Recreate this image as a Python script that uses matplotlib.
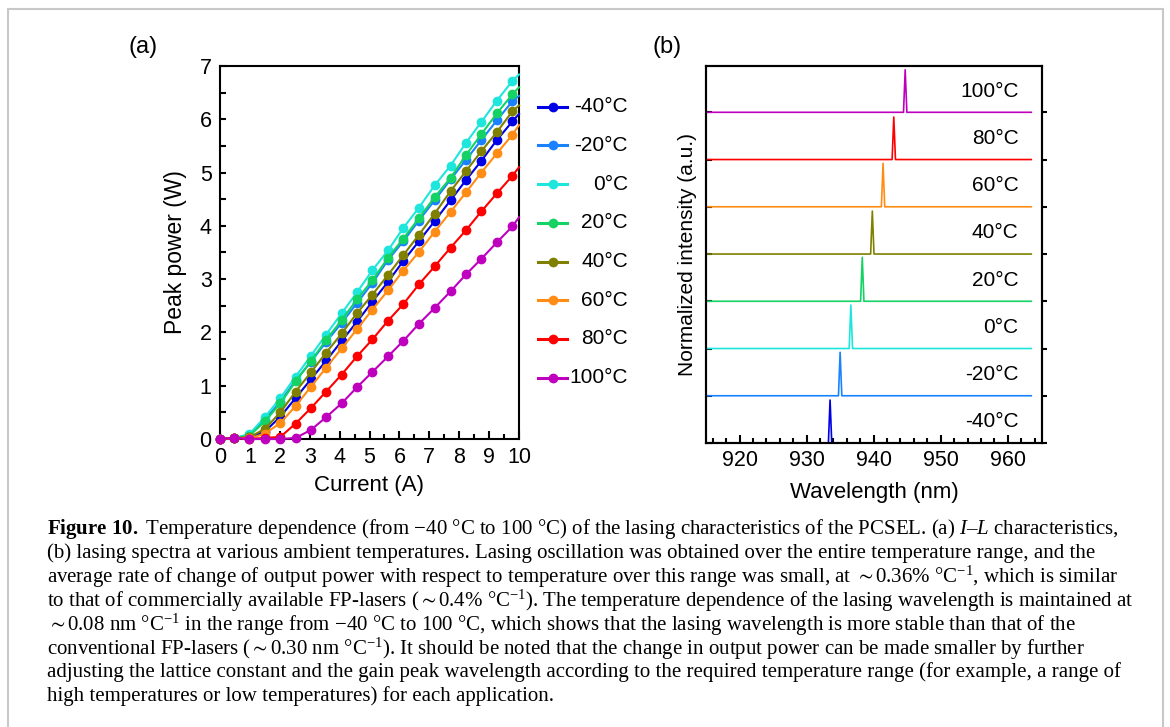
import matplotlib
matplotlib.use("Agg")
import matplotlib.pyplot as plt
from matplotlib.lines import Line2D
from matplotlib.patches import Rectangle
from matplotlib.ticker import MultipleLocator

plt.rcParams.update({
    "font.family": ["Liberation Sans", "DejaVu Sans"],
    "font.size": 15.5,
    "axes.linewidth": 1.5,
    "mathtext.fontset": "custom",
    "mathtext.rm": "Liberation Serif",
    "mathtext.it": "Liberation Serif:italic",
    "mathtext.bf": "Liberation Serif:bold",
    "mathtext.fallback": "stix",
})

# ── data ─────────────────────────────────────────────────
temps  = ["-40°C", "-20°C", "0°C", "20°C", "40°C", "60°C", "80°C", "100°C"]
colors = ["#0000e6", "#1a82ff", "#1ee6dc", "#14d264", "#808000",
          "#ff8c14", "#ff0000", "#be00be"]

current = [0, 0.47, 0.98, 1.5, 2.02, 2.53, 3.04, 3.55, 4.07, 4.58,
           5.1, 5.62, 6.13, 6.65, 7.18, 7.71, 8.23, 8.74, 9.26, 9.78]

p_m40 = [0, 0.02, 0.02, 0.14, 0.42, 0.77, 1.12, 1.47, 1.84, 2.20,
         2.58, 2.95, 3.34, 3.71, 4.09, 4.48, 4.86, 5.22, 5.61, 5.96]
p_m20 = [0, 0.02, 0.07, 0.36, 0.70, 1.10, 1.45, 1.82, 2.18, 2.55,
         2.93, 3.36, 3.71, 4.10, 4.48, 4.87, 5.24, 5.61, 5.98, 6.34]
p_0   = [0, 0.02, 0.09, 0.41, 0.77, 1.17, 1.56, 1.96, 2.36, 2.75,
         3.17, 3.54, 3.96, 4.34, 4.76, 5.13, 5.56, 5.95, 6.35, 6.72]
p_20  = [0, 0.02, 0.06, 0.33, 0.67, 1.08, 1.46, 1.86, 2.23, 2.62,
         2.98, 3.40, 3.76, 4.14, 4.54, 4.90, 5.33, 5.72, 6.11, 6.47]
p_40  = [0, 0.02, 0.03, 0.19, 0.50, 0.89, 1.25, 1.62, 1.98, 2.36,
         2.71, 3.08, 3.45, 3.83, 4.23, 4.65, 5.03, 5.40, 5.76, 6.15]
p_60  = [0, 0.02, 0.01, 0.10, 0.30, 0.62, 0.98, 1.34, 1.70, 2.06,
         2.43, 2.79, 3.16, 3.51, 3.89, 4.26, 4.63, 5.00, 5.36, 5.71]
p_80  = [0, 0.02, 0.0, 0.02, 0.04, 0.29, 0.58, 0.89, 1.21, 1.55,
         1.87, 2.22, 2.53, 2.90, 3.24, 3.59, 3.92, 4.27, 4.61, 4.94]
p_100 = [0, 0.02, 0.0, 0.0, 0.0, 0.02, 0.17, 0.41, 0.67, 0.97,
         1.26, 1.55, 1.84, 2.16, 2.46, 2.77, 3.09, 3.38, 3.69, 3.99]
powers = [p_m40, p_m20, p_0, p_20, p_40, p_60, p_80, p_100]
# fitted line value at 10 A
p_end = [6.10, 6.44, 6.84, 6.60, 6.26, 5.89, 5.10, 4.16]

# spectra
peak_wl  = [933.5, 935.0, 936.6, 938.3, 939.8, 941.4, 943.0, 944.7]
peak_h   = [0.91, 0.92, 0.92, 0.93, 0.91, 0.92, 0.90, 0.90]
wl_start = 915.0
wl_end   = 963.5
half_w   = 0.25

caption = [
    r"$\mathbf{Figure\ 10.}$ Temperature dependence (from −40 °C to 100 °C) of the lasing characteristics of the PCSEL. (a) $I$–$L$ characteristics,",
    "(b) lasing spectra at various ambient temperatures. Lasing oscillation was obtained over the entire temperature range, and the",
    r"average rate of change of output power with respect to temperature over this range was small, at ${\sim}$0.36% °C$^{-1}$, which is similar",
    r"to that of commercially available FP-lasers (${\sim}$0.4% °C$^{-1}$). The temperature dependence of the lasing wavelength is maintained at",
    r"${\sim}$0.08 nm °C$^{-1}$ in the range from −40 °C to 100 °C, which shows that the lasing wavelength is more stable than that of the",
    r"conventional FP-lasers (${\sim}$0.30 nm °C$^{-1}$). It should be noted that the change in output power can be made smaller by further",
    "adjusting the lattice constant and the gain peak wavelength according to the required temperature range (for example, a range of",
    "high temperatures or low temperatures) for each application.",
]

W, H = 1170, 727
fig = plt.figure(figsize=(W / 100, H / 100), dpi=100)

def fx(px):
    return px / W

def fy(py):
    return 1 - py / H

# frame
fig.add_artist(Rectangle((fx(8), fy(740)), fx(1163) - fx(8), fy(9) - fy(740),
                         transform=fig.transFigure, fill=False,
                         ec="#c8c8c8", lw=1.5))

# ── (a) I-L curves ───────────────────────────────────────
ax1 = fig.add_axes([fx(220), fy(439), fx(519) - fx(220), fy(66) - fy(439)])
for p, pe, c in zip(powers, p_end, colors):
    ax1.plot(current + [10], p + [pe], "-", color=c, lw=1.5,
             marker="o", ms=6, markevery=list(range(len(current))),
             clip_on=False, zorder=3)
ax1.set_xlim(0, 10)
ax1.set_ylim(0, 7)
ax1.xaxis.set_major_locator(MultipleLocator(1))
ax1.xaxis.set_minor_locator(MultipleLocator(0.5))
ax1.yaxis.set_major_locator(MultipleLocator(1))
ax1.yaxis.set_minor_locator(MultipleLocator(0.5))
ax1.tick_params(which="both", direction="in", width=1.5)
ax1.tick_params(axis="x", which="major", length=6, pad=6)
ax1.tick_params(axis="x", which="minor", length=3.5)
ax1.tick_params(axis="y", which="both", length=4.5, pad=6)
ax1.set_xlabel("Current (A)", labelpad=5, fontsize=16)
ax1.set_ylabel("Peak power (W)", labelpad=9, fontsize=16.5)
fig.text(fx(143), fy(47), "(a)", ha="center", va="center", fontsize=17)

# legend drawn by hand (labels right aligned)
for i, (t, c) in enumerate(zip(temps, colors)):
    yy = fy(106.7 + i * 38.7)
    fig.add_artist(Line2D([fx(538), fx(552.5), fx(567)], [yy, yy, yy],
                          transform=fig.transFigure, color=c, lw=2.2,
                          marker="o", ms=6, markevery=[1]))
    fig.text(fx(628), yy, t, ha="right", va="center", fontsize=15)

# ── (b) spectra ──────────────────────────────────────────
ax2 = fig.add_axes([fx(706), fy(443), fx(1042) - fx(706), fy(66) - fy(443)])
for i, (pk, h, c, t) in enumerate(zip(peak_wl, peak_h, colors, temps)):
    xs = [wl_start, pk - half_w, pk, pk + half_w, wl_end]
    ys = [i, i, i + h, i, i]
    ax2.plot(xs, ys, color=c, lw=1.2, clip_on=False, zorder=3)
    ax2.text(961.6, i + 0.45, t, ha="right", va="center", fontsize=15)
ax2.set_xlim(915, 965.1)
ax2.set_ylim(0, 7.98)
ax2.xaxis.set_major_locator(MultipleLocator(10))
ax2.xaxis.set_minor_locator(MultipleLocator(2))
ax2.set_yticks(range(len(temps)))
ax2.set_yticklabels([])
ax2.tick_params(axis="x", which="major", direction="in", length=6, width=1.5, pad=5)
ax2.tick_params(axis="x", which="minor", direction="in", length=3.5, width=1.5)
ax2.tick_params(axis="y", direction="in", length=4, width=1.5, left=True, right=False)
ax2r = ax2.twinx()
ax2r.set_ylim(ax2.get_ylim())
ax2r.set_yticks(range(len(temps)))
ax2r.set_yticklabels([])
ax2r.tick_params(axis="y", direction="out", length=3.5, width=1.5)
ax2.set_xlabel("Wavelength (nm)", labelpad=8, fontsize=16)
ax2.set_ylabel("Normalized intensity (a.u.)", labelpad=3, fontsize=15)
fig.text(fx(667), fy(47), "(b)", ha="center", va="center", fontsize=17)

# ── caption ──────────────────────────────────────────────
for i, line in enumerate(caption):
    fig.text(fx(47), fy(529 + i * 23.9), line, ha="left", va="center",
             fontsize=15, family=["Liberation Serif", "DejaVu Serif"])

fig.savefig("out.png", dpi=100)
